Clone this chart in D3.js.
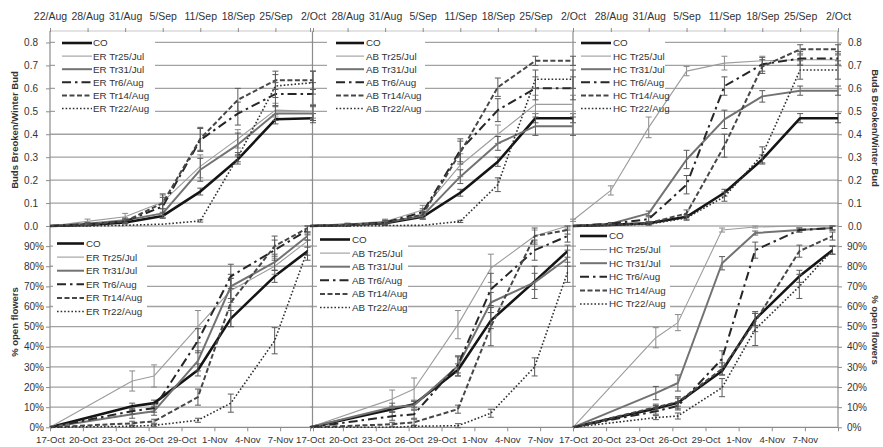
<!DOCTYPE html>
<html>
<head>
<meta charset="utf-8">
<script src="https://cdn.jsdelivr.net/npm/d3@7"></script>
<style>
  body { margin: 0; background: #fff; }
  text { font-family: "Liberation Sans", Arial, sans-serif; fill: #333; }
</style>
</head>
<body>
<svg id="chart" width="883" height="447"></svg>
<script>
// ---- data ----
const budDates = ["22/Aug", "28/Aug", "31/Aug", "5/Sep", "11/Sep", "18/Sep", "25/Sep", "2/Oct"];
const flowerTickDays = [0, 3, 6, 9, 12, 15, 18, 21, 24];
const flowerTickLabels = ["17-Oct", "20-Oct", "23-Oct", "26-Oct", "29-Oct", "1-Nov", "4-Nov", "7-Nov", ""];
const flowerDays = [0, 7.5, 9.5, 13.5, 16.5, 20.5, 23.5]; // days after 17-Oct
const sites = ["ER", "AB", "HC"];
const treatments = ["CO", "Tr25/Jul", "Tr31/Jul", "Tr6/Aug", "Tr14/Aug", "Tr22/Aug"];

// buds broken per winter bud (rows follow treatments)
const budsER = [
  [0, 0.005, 0.015, 0.044, 0.15, 0.29, 0.465, 0.47],
  [0, 0.02, 0.04, 0.105, 0.26, 0.38, 0.505, 0.50],
  [0, 0.01, 0.025, 0.055, 0.245, 0.355, 0.49, 0.49],
  [0, 0.008, 0.02, 0.085, 0.375, 0.49, 0.575, 0.575],
  [0, 0.005, 0.02, 0.10, 0.38, 0.55, 0.635, 0.635],
  [0, 0, 0.003, 0.008, 0.022, 0.30, 0.61, 0.625]
];
const budsAB = [
  [0, 0.005, 0.012, 0.04, 0.145, 0.28, 0.47, 0.47],
  [0, 0.008, 0.02, 0.07, 0.265, 0.40, 0.53, 0.53],
  [0, 0.005, 0.015, 0.045, 0.215, 0.36, 0.435, 0.435],
  [0, 0.005, 0.015, 0.06, 0.33, 0.505, 0.60, 0.60],
  [0, 0.003, 0.012, 0.05, 0.32, 0.605, 0.72, 0.72],
  [0, 0, 0.002, 0.003, 0.02, 0.18, 0.64, 0.64]
];
const budsHC = [
  [0, 0.005, 0.012, 0.04, 0.145, 0.29, 0.47, 0.47],
  [0.025, 0.155, 0.43, 0.675, 0.71, 0.72, 0.725, 0.725],
  [0, 0.01, 0.055, 0.29, 0.465, 0.565, 0.59, 0.59],
  [0, 0.01, 0.03, 0.18, 0.61, 0.705, 0.73, 0.73],
  [0, 0.005, 0.012, 0.055, 0.35, 0.695, 0.77, 0.77],
  [0, 0.003, 0.008, 0.035, 0.128, 0.31, 0.68, 0.68]
];
// standard errors of buds broken
const budsErrER = [
  [0, 0.003, 0.005, 0.01, 0.015, 0.02, 0.02, 0.02],
  [0, 0.01, 0.015, 0.03, 0.05, 0.04, 0.03, 0.03],
  [0, 0.005, 0.01, 0.02, 0.05, 0.05, 0.03, 0.03],
  [0, 0.005, 0.01, 0.04, 0.05, 0.05, 0.05, 0.05],
  [0, 0.005, 0.01, 0.04, 0.05, 0.05, 0.04, 0.04],
  [0, 0, 0, 0.003, 0.005, 0.02, 0.05, 0.05]
];
const budsErrAB = [
  [0, 0.003, 0.005, 0.01, 0.015, 0.02, 0.02, 0.02],
  [0, 0.005, 0.01, 0.02, 0.05, 0.04, 0.04, 0.04],
  [0, 0.005, 0.01, 0.015, 0.03, 0.03, 0.04, 0.04],
  [0, 0.005, 0.01, 0.015, 0.05, 0.05, 0.05, 0.05],
  [0, 0.005, 0.01, 0.015, 0.05, 0.04, 0.02, 0.02],
  [0, 0, 0.002, 0.003, 0.005, 0.03, 0.04, 0.04]
];
const budsErrHC = [
  [0, 0.003, 0.005, 0.01, 0.015, 0.02, 0.02, 0.02],
  [0.005, 0.02, 0.045, 0.02, 0.03, 0.02, 0.02, 0.02],
  [0, 0.005, 0.01, 0.04, 0.04, 0.025, 0.02, 0.02],
  [0, 0.005, 0.01, 0.04, 0.04, 0.03, 0.03, 0.03],
  [0, 0.003, 0.005, 0.015, 0.05, 0.03, 0.02, 0.02],
  [0, 0.003, 0.005, 0.01, 0.02, 0.035, 0.04, 0.04]
];

// open flowers, percent (rows follow treatments)
const flowersER = [
  [0, 10.5, 12, 28.5, 54, 75, 87.5],
  [0, 23, 25.5, 50, 68, 80, 92.5],
  [0, 6.5, 8, 33, 70, 82, 95],
  [0, 8, 9.5, 43, 75, 88, 98],
  [0, 2, 3, 15, 62, 90, 99],
  [0, 0.5, 1, 3.5, 12, 43, 88]
];
const flowersAB = [
  [0, 9, 11.5, 28.5, 53, 72.5, 87.5],
  [0, 14, 19, 51, 79, 95, 100],
  [0, 10, 11, 30.5, 62, 72, 84],
  [0, 5.5, 6.5, 31, 68.5, 88, 95],
  [0, 1.5, 2.5, 9, 50, 95, 98],
  [0, 0, 0.5, 0.8, 7, 30, 77]
];
const flowersHC = [
  [0, 9.3, 12.2, 28, 53.6, 75, 88],
  [0, 44.5, 52, 98, 99.5, 100, 100],
  [0, 17, 22, 81.5, 96.5, 98, 99],
  [0, 8, 10.6, 34, 88, 98, 99],
  [0, 10, 12.5, 29, 52.5, 87.5, 95],
  [0, 4.8, 5.6, 19.7, 48.6, 70, 88]
];
const flowersErrER = [
  [0, 1.5, 1.5, 3, 4, 3, 2],
  [0, 5, 5.5, 8, 6, 4, 3],
  [0, 2, 2, 5, 6, 4, 2],
  [0, 1.5, 2, 6, 6, 5, 2],
  [0, 1, 1, 4, 12, 5, 2],
  [0, 0.5, 0.5, 1, 4.5, 6.5, 5]
];
const flowersErrAB = [
  [0, 1.5, 1.5, 3, 4, 4, 3],
  [0, 4.5, 5.5, 7, 7, 3, 1],
  [0, 2, 2, 5, 5, 8, 4],
  [0, 2, 2, 4, 8, 5, 3],
  [0, 1, 1.5, 2, 9.5, 4, 2],
  [0, 0, 0.5, 1, 2, 4.5, 5]
];
const flowersErrHC = [
  [0, 1.5, 3, 2, 3, 3, 2],
  [0, 5, 4, 1, 0.5, 0, 0],
  [0, 3.3, 4, 3.3, 1, 1, 1],
  [0, 1.5, 2, 4, 4, 1, 1],
  [0, 1.5, 2, 3, 5, 3, 2],
  [0, 1, 1.5, 4.5, 8, 6, 2]
];

const budsBySite = [budsER, budsAB, budsHC];
const budsErrBySite = [budsErrER, budsErrAB, budsErrHC];
const flowersBySite = [flowersER, flowersAB, flowersHC];
const flowersErrBySite = [flowersErrER, flowersErrAB, flowersErrHC];

// ---- layout ----
const svg = d3.select("#chart");
const TOP = 31, MID = 226, BOT = 427.3;
const panels = [
  { l: 50, r: 313 },
  { l: 310, r: 573 },
  { l: 573, r: 838 }
];
const yBud = d3.scaleLinear().domain([0, 0.85]).range([MID, TOP]);
const yFlow = d3.scaleLinear().domain([0, 100]).range([BOT, MID]);

const seriesStyle = [
  { color: "#151515", width: 2.6, dash: null },
  { color: "#9c9c9c", width: 1.1, dash: null },
  { color: "#727272", width: 2.0, dash: null },
  { color: "#262626", width: 2.0, dash: "9,4,2.5,4" },
  { color: "#474747", width: 2.0, dash: "5,2.5" },
  { color: "#303030", width: 1.6, dash: "1.6,2" }
];

const budLegend = [
  { box: [55, 35, 100, 81], sx: [62, 92], tx: 93, y0: 43 },
  { box: [327, 35, 98, 81], sx: [336, 364], tx: 366, y0: 43 },
  { box: [576, 35, 89, 81], sx: [581, 611], tx: 613, y0: 43 }
];
const flowerLegend = [
  { box: [53, 231, 94, 87], sx: [57, 84], tx: 86, y0: 243.5 },
  { box: [317, 229, 91, 88], sx: [320, 350], tx: 352, y0: 239.5 },
  { box: [576, 228, 94, 88], sx: [580, 607], tx: 609, y0: 236 }
];

const gridColor = "#a2a2a2";
const axisColor = "#8c8c8c";
const tickFont = 10;

const gGrid = svg.append("g");
const gLegendBoxes = svg.append("g");
const gFrame = svg.append("g");
const gSeries = svg.append("g");
const gLegend = svg.append("g");
const gAxes = svg.append("g");

panels.forEach((p, pi) => {
  const xBud = d3.scalePoint().domain(budDates).range([p.l, p.r]);
  const xFlow = d3.scaleLinear().domain([0, 24]).range([p.l, p.r]);

  // horizontal gridlines
  gGrid.selectAll(null).data(d3.range(1, 9).map(v => v / 10)).join("line")
    .attr("x1", p.l).attr("x2", p.r)
    .attr("y1", d => yBud(d)).attr("y2", d => yBud(d))
    .attr("stroke", gridColor).attr("stroke-width", 1.3);
  gGrid.selectAll(null).data(d3.range(10, 100, 10)).join("line")
    .attr("x1", p.l).attr("x2", p.r)
    .attr("y1", d => yFlow(d)).attr("y2", d => yFlow(d))
    .attr("stroke", gridColor).attr("stroke-width", 1.3);

  // legend backgrounds
  [budLegend[pi], flowerLegend[pi]].forEach(lg => {
    gLegendBoxes.append("rect")
      .attr("x", lg.box[0]).attr("y", lg.box[1])
      .attr("width", lg.box[2]).attr("height", lg.box[3])
      .attr("fill", "#fff");
  });

  // top axis (dates of bud counts)
  const topAxis = d3.axisTop(xBud).tickSizeInner(3).tickSizeOuter(0).tickPadding(8);
  const gTop = gAxes.append("g").attr("transform", `translate(0,${TOP})`).call(topAxis);
  gTop.select(".domain").remove();
  gTop.selectAll(".tick line").attr("stroke", axisColor).attr("y2", -3).attr("y1", 1);
  gTop.selectAll(".tick text").attr("font-size", 10.5).attr("fill", "#333")
    .style("display", (d, i) => (pi > 0 && i === 0) ? "none" : null);

  // bottom axis (dates of flowering counts)
  const botAxis = d3.axisBottom(xFlow).tickValues(flowerTickDays)
    .tickFormat((d, i) => flowerTickLabels[i]).tickSizeInner(4).tickSizeOuter(0).tickPadding(5);
  const gBot = gAxes.append("g").attr("transform", `translate(0,${BOT})`).call(botAxis);
  gBot.select(".domain").remove();
  gBot.selectAll(".tick line").attr("stroke", axisColor);
  gBot.selectAll(".tick text").attr("font-size", 9.6).attr("fill", "#333");

  const lineBud = d3.line().x((d, i) => xBud(budDates[i])).y(d => yBud(d));
  const lineFlow = d3.line().x((d, i) => xFlow(flowerDays[i])).y(d => yFlow(d));

  treatments.forEach((t, ti) => {
    const st = seriesStyle[ti];
    const buds = budsBySite[pi][ti];
    const budsErr = budsErrBySite[pi][ti];
    const fl = flowersBySite[pi][ti];
    const flErr = flowersErrBySite[pi][ti];

    // error bars
    const eb = gSeries.append("g").attr("stroke", ti === 1 ? "#8a8a8a" : "#5a5a5a")
      .attr("stroke-width", 1).attr("fill", "none");
    buds.forEach((v, i) => {
      const e = budsErr[i];
      if (e <= 0.004) return;
      const x = xBud(budDates[i]);
      const y1 = yBud(v - e), y2 = yBud(v + e);
      eb.append("line").attr("x1", x).attr("x2", x).attr("y1", y1).attr("y2", y2);
      eb.append("line").attr("x1", x - 3).attr("x2", x + 3).attr("y1", y1).attr("y2", y1);
      eb.append("line").attr("x1", x - 3).attr("x2", x + 3).attr("y1", y2).attr("y2", y2);
    });
    fl.forEach((v, i) => {
      const e = flErr[i];
      if (e <= 0.4) return;
      const x = xFlow(flowerDays[i]);
      const y1 = yFlow(v - e), y2 = yFlow(Math.min(100, v + e));
      eb.append("line").attr("x1", x).attr("x2", x).attr("y1", y1).attr("y2", y2);
      eb.append("line").attr("x1", x - 3).attr("x2", x + 3).attr("y1", y1).attr("y2", y1);
      eb.append("line").attr("x1", x - 3).attr("x2", x + 3).attr("y1", y2).attr("y2", y2);
    });

    // series lines
    [[buds, lineBud], [fl, lineFlow]].forEach(([vals, gen]) => {
      gSeries.append("path")
        .attr("d", gen(vals))
        .attr("fill", "none")
        .attr("stroke", st.color)
        .attr("stroke-width", st.width)
        .attr("stroke-dasharray", st.dash)
        .attr("stroke-linejoin", "round");
    });

    // legend entries
    [budLegend[pi], flowerLegend[pi]].forEach(lg => {
      const rowH = lg === budLegend[pi] ? 13.1 : 13.6;
      const y = lg.y0 + ti * rowH;
      gLegend.append("line")
        .attr("x1", lg.sx[0]).attr("x2", lg.sx[1]).attr("y1", y).attr("y2", y)
        .attr("stroke", st.color).attr("stroke-width", st.width)
        .attr("stroke-dasharray", st.dash);
      gLegend.append("text")
        .attr("x", lg.tx).attr("y", y).attr("dy", "0.35em")
        .attr("font-size", 9.8)
        .text(t === "CO" ? "CO" : `${sites[pi]} ${t}`);
    });
  });
});

// frame: axis lines and panel separators
const frame = [
  [50, TOP, 50, BOT], [312.5, TOP, 312.5, BOT], [573, TOP, 573, BOT], [838, TOP, 838, BOT],
  [50, TOP, 838, TOP], [50, MID, 838, MID], [50, BOT, 838, BOT]
];
gFrame.selectAll(null).data(frame).join("line")
  .attr("x1", d => d[0]).attr("y1", d => d[1]).attr("x2", d => d[2]).attr("y2", d => d[3])
  .attr("stroke", (d, i) => i === 4 ? "#c8c8c8" : axisColor).attr("stroke-width", 1.2);

// y axes
const fmtBud = d3.format(".1f");
const fmtPct = d => d + "%";
const budTicks = d3.range(0, 9).map(v => v / 10);
const pctTicks = d3.range(0, 100, 10);

const yl1 = gAxes.append("g").attr("transform", "translate(50,0)")
  .call(d3.axisLeft(yBud).tickValues(budTicks).tickFormat(fmtBud).tickSizeInner(4).tickSizeOuter(0).tickPadding(8));
const yl2 = gAxes.append("g").attr("transform", "translate(50,0)")
  .call(d3.axisLeft(yFlow).tickValues(pctTicks).tickFormat(fmtPct).tickSizeInner(4).tickSizeOuter(0).tickPadding(2));
const yr1 = gAxes.append("g").attr("transform", "translate(838,0)")
  .call(d3.axisRight(yBud).tickValues(budTicks).tickFormat(fmtBud).tickSizeInner(4).tickSizeOuter(0).tickPadding(6));
const yr2 = gAxes.append("g").attr("transform", "translate(838,0)")
  .call(d3.axisRight(yFlow).tickValues(pctTicks).tickFormat(fmtPct).tickSizeInner(4).tickSizeOuter(0).tickPadding(5));
[yl1, yl2, yr1, yr2].forEach(g => {
  g.select(".domain").remove();
  g.selectAll(".tick line").attr("stroke", axisColor);
  g.selectAll(".tick text").attr("font-size", tickFont).attr("fill", "#333");
});

// axis titles
const titles = [
  { x: 15, y: 130, rot: -90, text: "Buds Breoken/Winter Bud" },
  { x: 15, y: 322, rot: -90, text: "% open flowers" },
  { x: 875, y: 128, rot: 90, text: "Buds Breoken/Winter Bud" },
  { x: 875, y: 330, rot: 90, text: "% open flowers" }
];
svg.selectAll(".ytitle").data(titles).join("text")
  .attr("class", "ytitle")
  .attr("transform", d => `translate(${d.x},${d.y}) rotate(${d.rot})`)
  .attr("text-anchor", "middle").attr("dy", "0.35em")
  .attr("font-size", 9.5).attr("font-weight", "bold")
  .text(d => d.text);
</script>
</body>
</html>
